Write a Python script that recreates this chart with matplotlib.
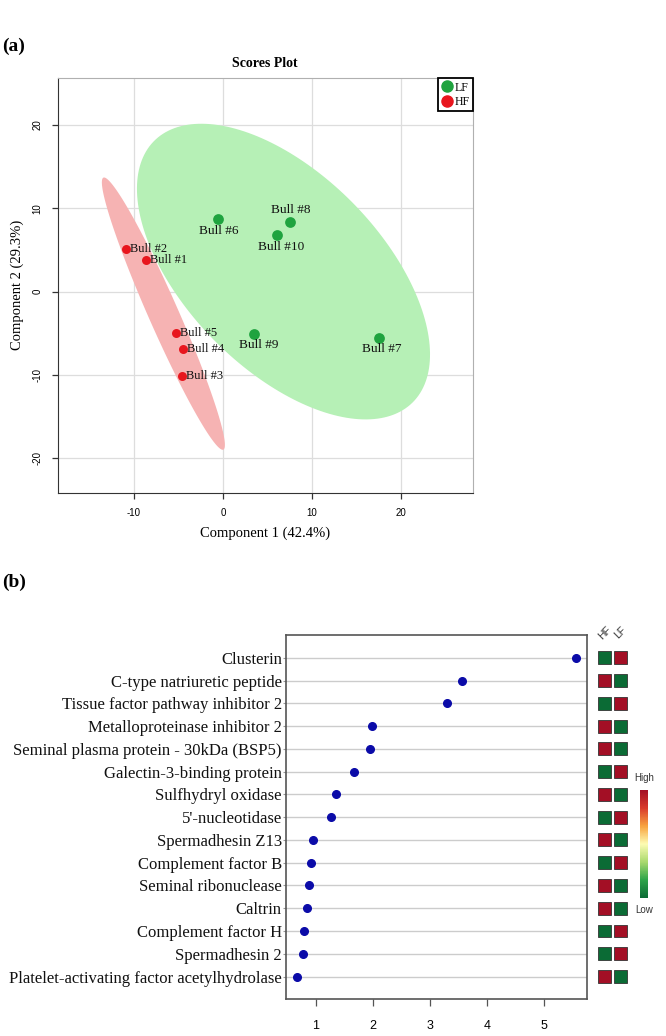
import numpy as np
import matplotlib.pyplot as plt
from matplotlib.patches import Polygon, Rectangle
from matplotlib.lines import Line2D
from matplotlib.colors import LinearSegmentedColormap
from matplotlib.cm import ScalarMappable

plt.rcParams['axes.unicode_minus'] = False

# ---- (a) scores plot data
hf_names = ['Bull #1', 'Bull #2', 'Bull #3', 'Bull #4', 'Bull #5']
hf_x = [-8.65, -10.9, -4.64, -4.46, -5.32]
hf_y = [3.84, 5.1, -10.1, -6.83, -4.96]
lf_names = ['Bull #6', 'Bull #7', 'Bull #8', 'Bull #9', 'Bull #10']
lf_x = [-0.52, 17.49, 7.49, 3.52, 6.07]
lf_y = [8.75, -5.52, 8.31, -5.12, 6.75]
# label offsets (points) for LF bulls
lf_offsets = [(0, -9), (2, -8.5), (1, 8.5), (3, -8), (3, -8.5)]

# 95% regions: centre, semi-axis vectors (data units)
hf_region = [(-6.7, -2.64), (6.74, -16.3), (-1.54, -0.73)]
lf_region = [(6.8, 2.4), (14.5, -15.7), (-7.81, -8.21)]

# ---- (b) VIP scores
proteins = ['Clusterin', 'C-type natriuretic peptide', 'Tissue factor pathway inhibitor 2',
            'Metalloproteinase inhibitor 2', 'Seminal plasma protein - 30kDa (BSP5)',
            'Galectin-3-binding protein', 'Sulfhydryl oxidase', "5'-nucleotidase",
            'Spermadhesin Z13', 'Complement factor B', 'Seminal ribonuclease', 'Caltrin',
            'Complement factor H', 'Spermadhesin 2', 'Platelet-activating factor acetylhydrolase']
vip = [5.57, 3.57, 3.31, 1.99, 1.96, 1.67, 1.36, 1.27, 0.95, 0.92, 0.88, 0.85, 0.79, 0.78, 0.67]
hf_level = [0, 1, 0, 1, 1, 0, 1, 0, 1, 0, 1, 1, 0, 0, 1]
lf_level = [1, 0, 1, 0, 0, 1, 0, 1, 0, 1, 0, 0, 1, 1, 0]
groups = ['HF', 'LF']

serif = ['Liberation Serif', 'DejaVu Serif']
sans = ['Liberation Sans', 'DejaVu Sans']

W, H = 666, 1036
fig = plt.figure(figsize=(W / 100, H / 100), dpi=100)


def box(l, t, r, b):
    return [l / W, 1 - b / H, (r - l) / W, (b - t) / H]


def region(params, n=200):
    c, u, v = params
    t = np.linspace(0, 2 * np.pi, n)
    xs = c[0] + np.cos(t) * u[0] + np.sin(t) * v[0]
    ys = c[1] + np.cos(t) * u[1] + np.sin(t) * v[1]
    return np.column_stack([xs, ys])


# ================= panel (a)
ax = fig.add_axes(box(57.5, 78, 473, 492.7))
ax.set_xlim(-18.6, 28.1)
ax.set_ylim(-24.1, 25.6)
ax.set_xticks([-10, 0, 10, 20])
ax.set_yticks([-20, -10, 0, 10, 20])
ax.grid(True, color='#dddddd', lw=0.9)
ax.set_axisbelow(True)

ax.add_patch(Polygon(region(lf_region), closed=True, fc='#b6f0b6', ec='none', zorder=1))
ax.add_patch(Polygon(region(hf_region), closed=True, fc='#f6b3b3', ec='none', zorder=1.1))

ax.scatter(lf_x, lf_y, s=60, color='#1fa33f', zorder=3, lw=0)
ax.scatter(hf_x, hf_y, s=42, color='#e8161e', zorder=3, lw=0)
for n, x, y in zip(hf_names, hf_x, hf_y):
    ax.annotate(n, (x, y), xytext=(3, 0), textcoords='offset points',
                ha='left', va='center', fontsize=9, family=serif, color='#111111')
for n, x, y, off in zip(lf_names, lf_x, lf_y, lf_offsets):
    ax.annotate(n, (x, y), xytext=off, textcoords='offset points',
                ha='center', va='center', fontsize=9.5, family=serif, color='#111111')

for s in ['left', 'bottom']:
    ax.spines[s].set_color('#333333')
for s in ['top', 'right']:
    ax.spines[s].set_color('#b0b0b0')
ax.tick_params(length=4, width=0.9, color='#333333', labelsize=7, pad=7)
for lab in ax.get_xticklabels() + ax.get_yticklabels():
    lab.set_family(sans)
plt.setp(ax.get_yticklabels(), rotation=90, va='center')
ax.set_xlabel('Component 1 (42.4%)', family=serif, fontsize=10.5, labelpad=6)
ax.set_ylabel('Component 2 (29.3%)', family=serif, fontsize=10.5, labelpad=6)
ax.set_title('Scores Plot', family=serif, fontsize=10, fontweight='bold', pad=8)

handles = [Line2D([], [], marker='o', ls='', color='#1fa33f', markersize=8, label='LF'),
           Line2D([], [], marker='o', ls='', color='#e8161e', markersize=8, label='HF')]
leg = ax.legend(handles=handles, loc='upper right', borderaxespad=0, fancybox=False,
                prop={'family': serif, 'size': 8.5}, handletextpad=0.1, handlelength=1,
                borderpad=0.3, labelspacing=0.2, framealpha=1)
leg.get_frame().set_edgecolor('black')
leg.get_frame().set_linewidth(1.3)

fig.text(2 / W, 1 - 46 / H, '(a)', family=serif, fontsize=14, fontweight='bold', va='center')
fig.text(2 / W, 1 - 582 / H, '(b)', family=serif, fontsize=14, fontweight='bold', va='center')

# ================= panel (b)
bx = fig.add_axes(box(286, 635, 586.7, 999.3))
rows = np.arange(1, len(proteins) + 1)
bx.hlines(rows, 0, 10, color='#cccccc', lw=1, zorder=1)
bx.plot(vip, rows, 'o', color='#0b0ba8', markersize=5.5, zorder=3)
bx.set_xlim(0.48, 5.75)
bx.set_ylim(len(proteins) + 1, 0)
bx.set_yticks(rows)
bx.set_yticklabels(proteins, family=serif, fontsize=12, color='#111111')
bx.set_xticks([1, 2, 3, 4, 5])
bx.tick_params(axis='x', length=5, width=0.9, color='#555555', labelsize=9, pad=10)
bx.tick_params(axis='y', length=2, width=0.8, color='#999999', pad=1)
for lab in bx.get_xticklabels():
    lab.set_family(sans)
for s in bx.spines.values():
    s.set_color('#555555')
    s.set_linewidth(1.2)

# heat squares
hx = fig.add_axes(box(597, 635, 628, 999.3))
hx.set_xlim(0, 2)
hx.set_ylim(len(proteins) + 1, 0)
hx.axis('off')
cmap = LinearSegmentedColormap.from_list(
    'gr', ['#0b6b35', '#2ea44a', '#a9d96d', '#fdfcb3', '#f8a33f', '#d93a2b', '#a30f25'])
for j, lev in enumerate([hf_level, lf_level]):
    for r, v in zip(rows, lev):
        hx.add_patch(Rectangle((j + 0.08, r - 0.285), 0.84, 0.57,
                               fc=cmap(float(v)), ec='#333333', lw=0.6))
    hx.text(j + 0.5, -0.1, groups[j], rotation=45, ha='center', va='center',
            family=sans, fontsize=7.5, color='#333333', clip_on=False)

# colour key
cx = fig.add_axes(box(640, 790, 648, 898))
cb = fig.colorbar(ScalarMappable(cmap=cmap), cax=cx)
cb.set_ticks([])
cb.outline.set_visible(False)
fig.text(644 / W, 1 - 778 / H, 'High', family=sans, fontsize=7, ha='center', va='center', color='#333333')
fig.text(644 / W, 1 - 910 / H, 'Low', family=sans, fontsize=7, ha='center', va='center', color='#333333')

fig.savefig('out.png', dpi=100)
